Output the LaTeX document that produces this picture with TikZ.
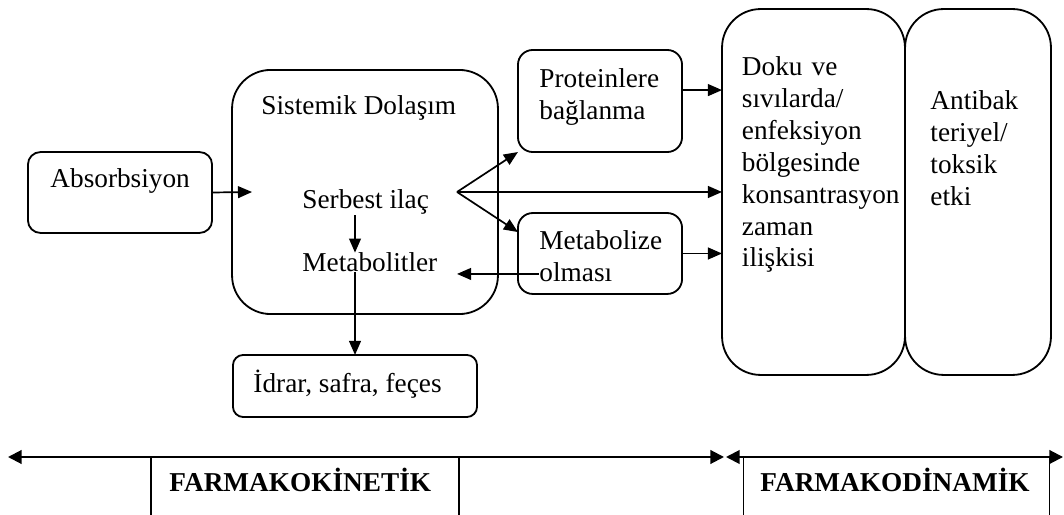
\documentclass[tikz,border=0pt]{standalone}
\usepackage{fontspec}
\setmainfont{Liberation Serif}
\usetikzlibrary{arrows.meta,calc}

\tikzset{
  kutu/.style={draw, line width=0.8pt, inner sep=0pt, outer sep=0pt},
  yazi/.style={inner sep=0pt, anchor=base west, font=\fontsize{12}{14}\selectfont},
  coksatir/.style={yazi, text width=#1, align=left},
  ok/.style={line width=0.75pt, -{Triangle[length=6.2pt,width=5.2pt]}},
  ciftok/.style={line width=0.9pt, {Triangle[length=6pt,width=6pt]}-{Triangle[length=6pt,width=6pt]}},
}

\begin{document}
\begin{tikzpicture}[x=0.44pt,y=-0.44pt]
	\useasboundingbox (0,0) rectangle (1064,515);

	% kutular
	\node[kutu, rounded corners=5.5pt, minimum width=81pt, minimum height=35.6pt] (absorb) at (120,192.5) {};
	\node[kutu, rounded corners=17pt, minimum width=117pt, minimum height=107.4pt] (sist) at (365,192) {};
	\node[kutu, rounded corners=6.5pt, minimum width=72.2pt, minimum height=44.9pt] (prot) at (600,101) {};
	\node[kutu, rounded corners=6.5pt, minimum width=72.2pt, minimum height=35.6pt] (met) at (600,253.5) {};
	\node[kutu, rounded corners=17pt, minimum width=80.5pt, minimum height=161pt] (doku) at (813.5,192) {};
	\node[kutu, rounded corners=17pt, minimum width=64.2pt, minimum height=161pt] (anti) at (978,192) {};
	\node[kutu, rounded corners=4.5pt, minimum width=107.4pt, minimum height=27.3pt] (idrar) at (355,386) {};

	% yazilar
	\node[yazi] (absorbyazi) at (50,188) {Absorbsiyon};
	\node[yazi] (sistyazi) at (261,115) {Sistemik Dolaşım};
	\node[yazi] (serb) at (302,209) {Serbest ilaç};
	\node[yazi] (metab) at (302,272) {Metabolitler};
	\node[coksatir=70pt] (protyazi) at (539,88) {Proteinlere\\bağlanma};
	\node[coksatir=70pt] (metyazi) at (539,250) {Metabolize\\olması};
	\node[coksatir=75pt] (dokuyazi) at (741.5,76) {Doku ve\\sıvılarda/\\enfeksiyon\\bölgesinde\\konsantrasyon\\zaman\\ilişkisi};
	\node[coksatir=60pt] (antiyazi) at (930,110) {Antibak\\teriyel/\\toksik\\etki};
	\node[yazi] (idraryazi) at (253,393) {İdrar, safra, feçes};
	\node[yazi, font=\fontsize{12}{14}\selectfont\bfseries] (kinetik) at (169,492) {FARMAKOKİNETİK};
	\node[yazi, font=\fontsize{12}{14}\selectfont\bfseries] (dinamik) at (760,492) {FARMAKODİNAMİK};

	% oklar
	\coordinate (fan) at (457,192);
	\draw[ok] (absorb.east) -- ([xshift=8.8pt]sist.west);
	\draw[ok] (serb.south -| idrar.north) -- (metab.north -| idrar.north);
	\draw[ok] (metab.base -| idrar.north) -- (idrar.north);
	\draw[ok] (fan) -- (prot.south west);
	\draw[ok] (fan) -- (fan -| doku.west);
	\draw[ok] (fan) -- ($(met.north west)!0.235!(met.south west)$);
	\draw[ok] ([yshift=4.8pt]prot.east) -- ([yshift=4.8pt]prot.east -| doku.west);
	\draw[ok] (met.east) -- (met.east -| doku.west);
	\draw[ok] ([shift={(9.2pt,-9pt)}]met.west) -- ([yshift=-9pt]met.west -| fan);

	% alt cizgi
	\coordinate (kl) at (8,457);
	\coordinate (kr) at (724,457);
	\coordinate (dl) at (726,457);
	\coordinate (dr) at (1063,457);
	\draw[ciftok] (kl) -- (kr);
	\draw[ciftok] (dl) -- (dr);
	\draw[line width=0.45pt] (151,457) -- (151,515);
	\draw[line width=0.45pt] (459,457) -- (459,515);
	\draw[line width=0.45pt] (743,457) -- (743,515);
	\draw[line width=0.45pt] (1049,457) -- (1049,515);
\end{tikzpicture}
\end{document}
